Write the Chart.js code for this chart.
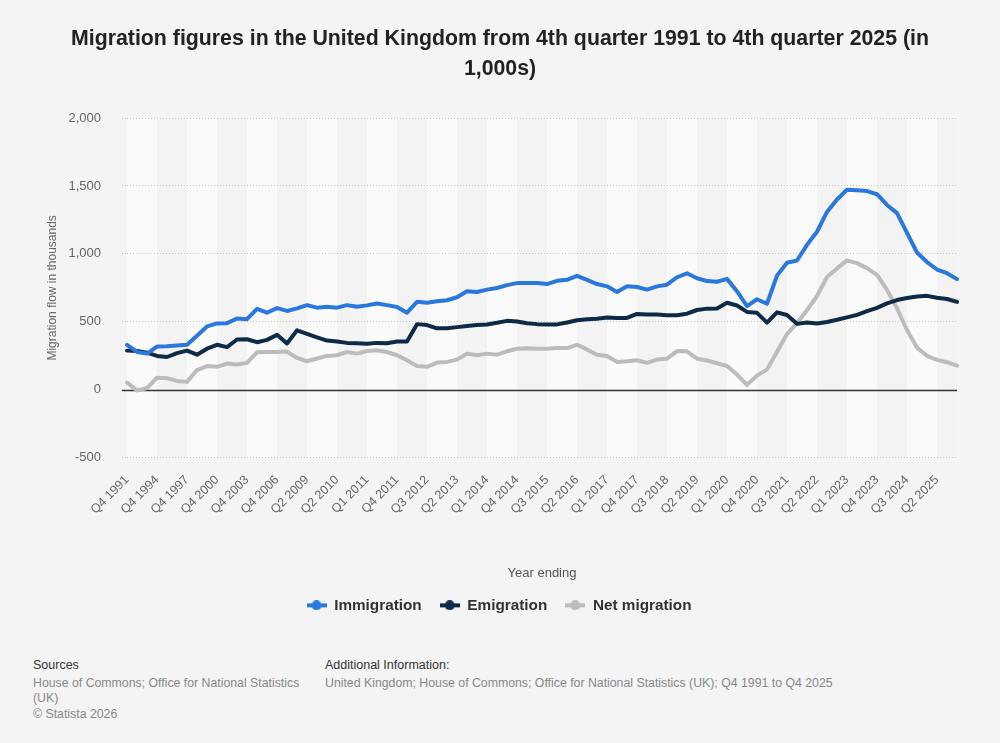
<!DOCTYPE html>
<html>
<head>
<meta charset="utf-8">
<script src="https://cdn.jsdelivr.net/npm/chart.js@4.4.1/dist/chart.umd.min.js"></script>
<style>
  html, body { margin:0; padding:0; background:#f4f4f4; width:1000px; height:743px; overflow:hidden; font-family:"Liberation Sans", Arial, sans-serif; }
  #wrap { position:absolute; left:0; top:0; width:1000px; height:626px; }
  #title { position:absolute; left:10px; width:980px; top:23px; text-align:center; font-weight:bold; font-size:21.3px; line-height:30px; color:#222; }
  .foot { position:absolute; top:658px; font-size:12.3px; line-height:15.5px; color:#888; }
  .foot b { font-weight:normal; color:#333; font-size:12.5px; display:block; margin-bottom:2px; }
</style>
</head>
<body>
<div id="wrap"><canvas id="c" width="1000" height="626"></canvas></div>
<div id="title">Migration figures in the United Kingdom from 4th quarter 1991 to 4th quarter 2025 (in<br>1,000s)</div>
<div class="foot" style="left:33px;"><b>Sources</b>House of Commons; Office for National Statistics<br>(UK)<br>© Statista 2026</div>
<div class="foot" style="left:325px;"><b>Additional Information:</b>United Kingdom; House of Commons; Office for National Statistics (UK); Q4 1991 to Q4 2025</div>
<script>
// ---- Data ----
const categories = [
  'Q4 1991','Q4 1992','Q4 1993','Q4 1994','Q4 1995','Q4 1996','Q4 1997','Q4 1998','Q4 1999','Q4 2000',
  'Q4 2001','Q4 2002','Q4 2003','Q4 2004','Q4 2005','Q4 2006','Q4 2007','Q4 2008','Q2 2009','Q4 2009',
  'Q1 2010','Q2 2010','Q3 2010','Q4 2010','Q1 2011','Q2 2011','Q3 2011','Q4 2011','Q1 2012','Q2 2012',
  'Q3 2012','Q4 2012','Q1 2013','Q2 2013','Q3 2013','Q4 2013','Q1 2014','Q2 2014','Q3 2014','Q4 2014',
  'Q1 2015','Q2 2015','Q3 2015','Q4 2015','Q1 2016','Q2 2016','Q3 2016','Q4 2016','Q1 2017','Q2 2017',
  'Q3 2017','Q4 2017','Q1 2018','Q2 2018','Q3 2018','Q4 2018','Q1 2019','Q2 2019','Q3 2019','Q4 2019',
  'Q1 2020','Q2 2020','Q3 2020','Q4 2020','Q1 2021','Q2 2021','Q3 2021','Q4 2021','Q1 2022','Q2 2022',
  'Q3 2022','Q4 2022','Q1 2023','Q2 2023','Q3 2023','Q4 2023','Q1 2024','Q2 2024','Q3 2024','Q4 2024',
  'Q1 2025','Q2 2025','Q3 2025','Q4 2025'
];
const immigration = [
  330,278,266,318,320,326,332,398,466,488,
  490,524,519,596,567,601,580,599,623,604,
  611,604,623,611,621,635,623,609,567,647,
  640,652,659,681,725,720,737,749,770,785,
  785,785,778,802,809,838,809,778,761,720,
  761,756,737,761,773,828,857,821,800,795,
  816,725,615,666,633,840,935,951,1066,1163,
  1309,1400,1472,1468,1462,1439,1360,1300,1155,1010,
  940,885,858,814
];
const emigration = [
  288,285,273,249,241,270,288,258,302,331,
  314,370,372,350,367,404,340,437,411,385,
  362,355,345,343,338,345,343,355,355,483,
  476,452,452,461,469,476,481,493,507,502,
  490,483,481,481,495,512,519,522,531,529,
  529,558,553,553,548,548,560,587,597,598,
  640,620,573,566,494,570,550,485,495,487,
  499,515,533,551,579,603,636,660,675,687,
  691,677,668,647
];
const netMigration = [
  53,-5,12,89,85,65,58,145,174,169,
  193,186,198,276,278,278,281,234,210,230,
  249,254,278,266,285,290,278,254,217,174,
  169,200,205,222,266,254,266,258,283,302,
  305,302,302,307,307,331,297,258,249,205,
  210,217,198,222,229,285,283,229,215,195,
  175,112,36,104,148,280,410,490,585,690,
  830,893,952,932,895,845,735,600,440,310,
  250,220,203,178
];
const yTicks = [-500, 0, 500, 1000, 1500, 2000];
const seriesNames = ['Immigration', 'Emigration', 'Net migration'];
const seriesColors = ['#2a78de', '#0e2a47', '#bcbcbc'];

function legendIcon(color) {
  const c = document.createElement('canvas');
  c.width = 20; c.height = 10;
  const g = c.getContext('2d');
  g.strokeStyle = color; g.lineWidth = 4;
  g.beginPath(); g.moveTo(0, 5); g.lineTo(20, 5); g.stroke();
  g.fillStyle = color;
  g.beginPath(); g.arc(10, 5, 5, 0, Math.PI * 2); g.fill();
  return c;
}

const bandsPlugin = {
  id: 'bands',
  afterLayout(chart) {
    // centre the legend on the page
    const lg = chart.legend;
    if (lg) {
      const w = lg.right - lg.left;
      lg.left = (1000 - w) / 2 - 1; lg.right = lg.left + w;
      lg.top -= 3; lg.bottom -= 3;
    }
  },
  beforeDraw(chart) {
    const {ctx, chartArea, scales} = chart;
    const x = scales.x;
    ctx.save();
    for (let k = 0; k * 3 < categories.length - 1; k++) {
      const x0 = x.getPixelForValue(k * 3);
      const x1 = x.getPixelForValue(Math.min(k * 3 + 3, categories.length - 1));
      ctx.fillStyle = (k % 2 === 0) ? '#fafafa' : '#f3f3f3';
      ctx.fillRect(x0, chartArea.top, x1 - x0, chartArea.bottom - chartArea.top);
    }
    ctx.restore();
  },
  beforeDatasetsDraw(chart) {
    const {ctx, chartArea, scales} = chart;
    const y0 = Math.round(scales.y.getPixelForValue(0)) + 0.5;
    ctx.save();
    ctx.strokeStyle = '#333';
    ctx.lineWidth = 1.3;
    ctx.beginPath();
    ctx.moveTo(chartArea.left - 5, y0);
    ctx.lineTo(chartArea.right, y0);
    ctx.stroke();
    ctx.restore();
  }
};

const values = [immigration, emigration, netMigration];
new Chart(document.getElementById('c'), {
  type: 'line',
  data: {
    labels: categories,
    datasets: values.map((v, i) => ({
      label: seriesNames[i],
      data: v,
      borderColor: seriesColors[i],
      backgroundColor: seriesColors[i],
      borderWidth: 4,
      pointRadius: 0,
      pointHoverRadius: 0,
      pointStyle: legendIcon(seriesColors[i]),
      tension: 0,
      borderCapStyle: 'round',
      borderJoinStyle: 'round',
      fill: false
    }))
  },
  options: {
    responsive: false,
    animation: false,
    layout: { padding: { top: 118, right: 43, left: 0, bottom: 0 } },
    plugins: {
      tooltip: { enabled: false },
      legend: {
        position: 'bottom',
        labels: {
          usePointStyle: true,
          pointStyleWidth: 20,
          boxHeight: 10,
          padding: 18,
          color: '#333',
          font: { family: '"Liberation Sans", Arial, sans-serif', size: 15.3, weight: 'bold' }
        }
      }
    },
    scales: {
      x: {
        type: 'category',
        offset: false,
        grid: { display: false, drawTicks: false },
        border: { display: false },
        ticks: {
          autoSkip: false,
          maxRotation: 45,
          minRotation: 45,
          padding: 15,
          color: '#666',
          font: { family: '"Liberation Sans", Arial, sans-serif', size: 12.5 },
          callback: (val, idx) => idx % 3 === 0 ? categories[idx] : ''
        },
        title: {
          display: true,
          text: 'Year ending',
          color: '#555',
          padding: { top: 0, bottom: 1 },
          font: { family: '"Liberation Sans", Arial, sans-serif', size: 13 }
        },
        afterFit(scale) { scale.height = 125; }
      },
      y: {
        min: -500,
        max: 2000,
        afterBuildTicks(scale) { scale.ticks = yTicks.map(v => ({ value: v })); },
        grid: {
          color: ctx => (ctx.tick && ctx.tick.value === 0) ? 'rgba(0,0,0,0)' : '#c8c8c8',
          lineWidth: 1,
          drawTicks: true,
          tickLength: 5,
          tickBorderDash: [1, 2]
        },
        border: { display: false, dash: [1, 2] },
        ticks: {
          padding: 21,
          color: '#666',
          font: { family: '"Liberation Sans", Arial, sans-serif', size: 13 },
          callback: v => Number(v).toLocaleString('en-US')
        },
        title: {
          display: true,
          text: 'Migration flow in thousands',
          color: '#666',
          padding: { top: 45, bottom: 0 },
          font: { family: '"Liberation Sans", Arial, sans-serif', size: 12 }
        },
        afterFit(scale) { scale.width = 127; }
      }
    }
  },
  plugins: [bandsPlugin]
});
</script>
</body>
</html>
